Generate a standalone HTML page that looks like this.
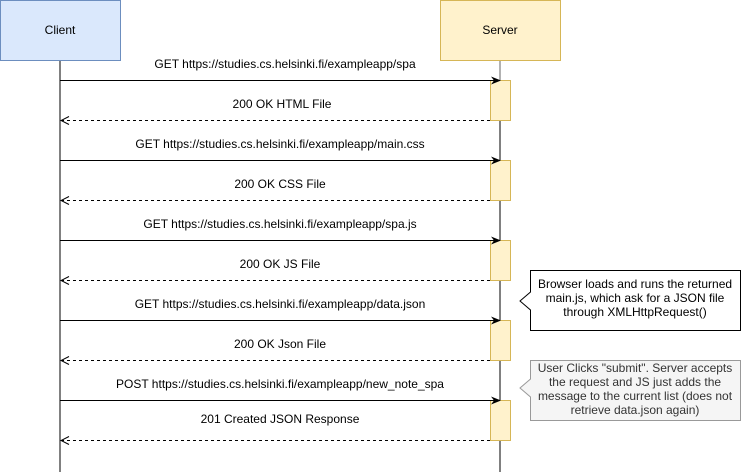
<!DOCTYPE html>
<html><head><style>
body{margin:0;background:#fff;}
svg{display:block;font-family:"Liberation Sans",Helvetica,Arial,sans-serif;}
</style></head><body>
<svg width="741" height="472" viewBox="0 0 741 472" xmlns="http://www.w3.org/2000/svg">
<defs>
<marker id="a" markerWidth="10" markerHeight="10" refX="9" refY="5" orient="auto" markerUnits="userSpaceOnUse"><path d="M0,1 L10,5 L0,9 L3,5 Z" fill="#000"/></marker>
<marker id="o" markerWidth="10" markerHeight="10" refX="9" refY="5" orient="auto" markerUnits="userSpaceOnUse"><path d="M1,1 L9,5 L1,9" fill="none" stroke="#000"/></marker>
</defs>
<line x1="60" y1="60" x2="60" y2="472" stroke="#000"/>
<line x1="500" y1="60" x2="500" y2="80" stroke="#666"/>
<line x1="500" y1="80" x2="500" y2="472" stroke="#000"/>
<rect x="0.5" y="0.5" width="120" height="60" fill="#dae8fc" stroke="#6c8ebf"/>
<text x="60" y="34" font-size="12" text-anchor="middle">Client</text>
<rect x="440.5" y="0.5" width="120" height="60" fill="#fff2cc" stroke="#d6b656"/>
<text x="500" y="34" font-size="12" text-anchor="middle">Server</text>
<g fill="#fff2cc" stroke="#d6b656">
<rect x="490.5" y="80.5" width="20" height="40"/>
<rect x="490.5" y="160.5" width="20" height="40"/>
<rect x="490.5" y="240.5" width="20" height="40"/>
<rect x="490.5" y="320.5" width="20" height="40"/>
<rect x="490.5" y="400.5" width="20" height="40"/>
</g>
<g stroke="#000" fill="none">
<line x1="60" y1="80.5" x2="500" y2="80.5" marker-end="url(#a)"/>
<line x1="60" y1="160.5" x2="500" y2="160.5" marker-end="url(#a)"/>
<line x1="60" y1="240.5" x2="500" y2="240.5" marker-end="url(#a)"/>
<line x1="60" y1="320.5" x2="500" y2="320.5" marker-end="url(#a)"/>
<line x1="60" y1="400.5" x2="500" y2="400.5" marker-end="url(#a)"/>
<g stroke-dasharray="3,3">
<line x1="490" y1="120.5" x2="61" y2="120.5" marker-end="url(#o)"/>
<line x1="490" y1="200.5" x2="61" y2="200.5" marker-end="url(#o)"/>
<line x1="490" y1="280.5" x2="61" y2="280.5" marker-end="url(#o)"/>
<line x1="490" y1="360.5" x2="61" y2="360.5" marker-end="url(#o)"/>
<line x1="490" y1="440.5" x2="61" y2="440.5" marker-end="url(#o)"/>
</g>
</g>
<g font-size="12" text-anchor="middle" fill="#000">
<text x="285" y="68">GET https://studies.cs.helsinki.fi/exampleapp/spa</text>
<text x="282" y="108">200 OK HTML File</text>
<text x="280" y="148">GET https://studies.cs.helsinki.fi/exampleapp/main.css</text>
<text x="280" y="188">200 OK CSS File</text>
<text x="280" y="228">GET https://studies.cs.helsinki.fi/exampleapp/spa.js</text>
<text x="280" y="268">200 OK JS File</text>
<text x="280" y="308">GET https://studies.cs.helsinki.fi/exampleapp/data.json</text>
<text x="280" y="348">200 OK Json File</text>
<text x="280" y="388">POST https://studies.cs.helsinki.fi/exampleapp/new_note_spa</text>
<text x="280" y="423">201 Created JSON Response</text>
</g>
<path d="M530.5,270.5 H740.5 V330.5 H530.5 V310 L520,301 L530.5,292 Z" fill="#fff" stroke="#000"/>
<g font-size="12" text-anchor="middle" fill="#000">
<text x="635" y="288">Browser loads and runs the returned</text>
<text x="635" y="302">main.js, which ask for a JSON file</text>
<text x="635" y="316">through XMLHttpRequest()</text>
</g>
<path d="M530.5,360.5 H740.5 V420.5 H530.5 V397 L520,388 L530.5,379 Z" fill="#f5f5f5" stroke="#999"/>
<g font-size="12" text-anchor="middle" fill="#333">
<text x="635" y="372">User Clicks "submit". Server accepts</text>
<text x="635" y="386">the request and JS just adds the</text>
<text x="635" y="400">message to the current list (does not</text>
<text x="635" y="414">retrieve data.json again)</text>
</g>
</svg>
</body></html>
